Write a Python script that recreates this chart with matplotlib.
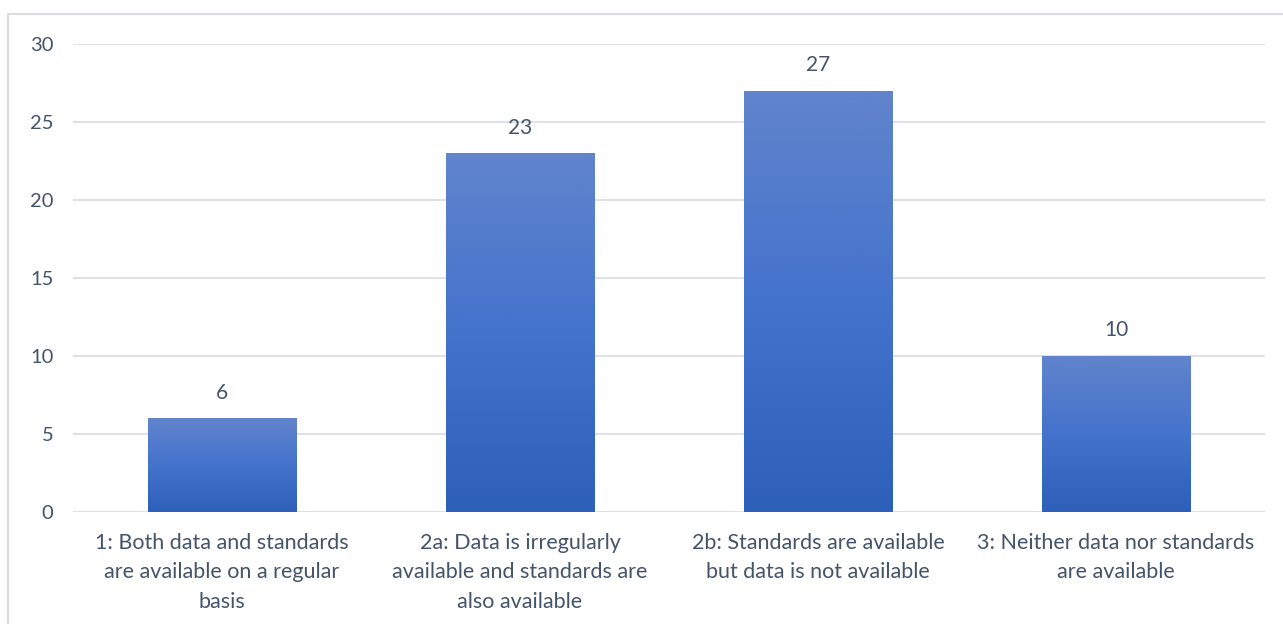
import numpy as np
import matplotlib.pyplot as plt
from matplotlib.patches import Rectangle
from matplotlib.colors import LinearSegmentedColormap

categories = [
    "1: Both data and standards\nare available on a regular\nbasis",
    "2a: Data is irregularly\navailable and standards are\nalso available",
    "2b: Standards are available\nbut data is not available",
    "3: Neither data nor standards\nare available",
]
counts = [6, 23, 27, 10]
yticks = [0, 5, 10, 15, 20, 25, 30]

W, H = 1283, 624
text_color = "#44546A"
grid_color = "#DEE2E8"

plt.rcParams['font.family'] = ['Lato', 'DejaVu Sans']

fig = plt.figure(figsize=(W / 100, H / 100), dpi=100)
fig.patch.set_facecolor("white")

# outer chart frame
fig.patches.append(Rectangle((8 / W, -0.1), 1.2, 1 - 14 / H + 0.1,
                             transform=fig.transFigure, fill=False,
                             edgecolor="#D9DDE3", linewidth=1.5))

ax = fig.add_axes([73 / W, 1 - 512 / H, (1265 - 73) / W, (512 - 44) / H])
x = np.arange(len(counts))
bars = ax.bar(x, counts, width=0.5, color="none", zorder=3)

# vertical gradient fill for each bar
grad = LinearSegmentedColormap.from_list("g", ["#2D60B9", "#4473CC", "#6184CC"])
gimg = np.linspace(0, 1, 256).reshape(-1, 1)
for b in bars:
    x0, y0 = b.get_x(), b.get_y()
    im = ax.imshow(gimg, cmap=grad, aspect="auto", origin="lower",
                   extent=[x0, x0 + b.get_width(), y0, y0 + b.get_height()],
                   zorder=3)
    im.set_clip_path(b)

for xi, v in zip(x, counts):
    ax.text(xi, v + 1.0, str(v), ha="center", va="bottom",
            fontsize=15, color=text_color)

ax.set_xlim(-0.5, len(counts) - 0.5)
ax.set_ylim(0, 30)
ax.set_yticks(yticks)
ax.set_xticks(x)
ax.set_xticklabels(categories, fontsize=15.5, color=text_color, linespacing=1.6)
ax.tick_params(axis="y", labelsize=14.5, labelcolor=text_color, length=0, pad=14)
ax.tick_params(axis="x", length=0, pad=15)
ax.grid(axis="y", color=grid_color, linewidth=1.5, zorder=0)
for s in ax.spines.values():
    s.set_visible(False)

fig.savefig("out.png", dpi=100)
